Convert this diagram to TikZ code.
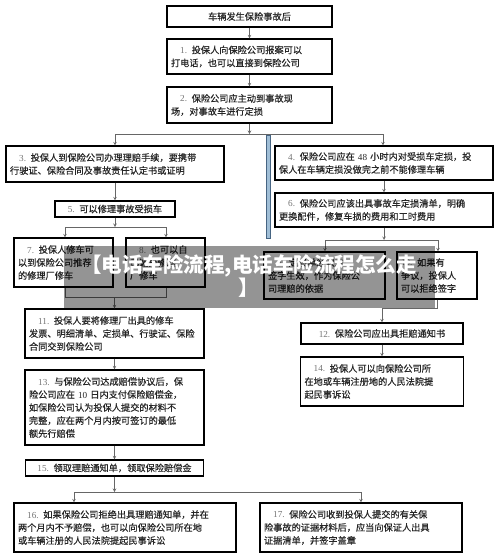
\documentclass[tikz,border=0pt]{standalone}
\usepackage{fontspec}
\setmainfont{Noto Sans CJK SC}
\newfontfamily\boxfont{Noto Sans CJK SC}[FakeBold=0.5]
\newfontfamily\numfont{Liberation Serif}
\definecolor{barfill}{RGB}{160,190,214}
\definecolor{barline}{RGB}{70,100,130}
\newcommand{\stepnum}[1]{{\numfont\color{black!55}#1.}\hspace{0.5em}}

\begin{document}
\begin{tikzpicture}[x=1pt, y=-1pt, >=stealth,
    stepbox/.style={draw, line width=1.1pt, rectangle, inner xsep=4pt, inner ysep=2pt,
        align=left, text=black!85, font=\boxfont\fontsize{9.2pt}{13pt}\selectfont},
    link/.style={draw=black!60, line width=0.6pt}]
        \useasboundingbox (0,0) rectangle (500,555);

        % main column
        \node[stepbox, align=center, minimum width=165pt, minimum height=21pt] (acc) at (249.5,16.5) {车辆发生保险事故后};
        \node[stepbox, text width=157pt, minimum height=35pt] (s1) at (249.5,56.5) {\hspace*{1em}\stepnum{1}投保人向保险公司报案可以\\打电话，也可以直接到保险公司};
        \node[stepbox, text width=157pt, minimum height=36pt] (s2) at (249.5,105) {\hspace*{1em}\stepnum{2}保险公司应主动到事故现\\场，对事故车进行定损};

        % left branch
        \node[stepbox, text width=210pt, minimum height=36pt] (s3) at (115,164) {\hspace*{1em}\stepnum{3}投保人到保险公司办理理赔手续，要携带\\行驶证、保险合同及事故责任认定书或证明};
        \node[stepbox, align=center, minimum width=120pt, minimum height=16pt] (s5) at (115,209) {\stepnum{5}可以修理事故受损车};
        \node[stepbox, text width=91pt, minimum height=49pt] (s7) at (63.5,262.5) {\hspace*{1em}\stepnum{7}投保人修车可\\以到保险公司推荐\\的修理厂修车};
        \node[stepbox, text width=71pt, minimum height=49pt] (s8) at (165.5,262.5) {\hspace*{1em}\stepnum{8}也可以自\\己选择修理\\厂修车};
        \node[stepbox, text width=171pt, minimum height=49pt] (s11) at (114.5,333.5) {\hspace*{1em}\stepnum{11}投保人要将修理厂出具的修车\\发票、明细清单、定损单、行驶证、保险\\合同交到保险公司};
        \node[stepbox, text width=171pt, minimum height=75pt] (s13) at (114.5,407.5) {\hspace*{1em}\stepnum{13}与保险公司达成赔偿协议后，保\\险公司应在 {\numfont 10} 日内支付保险赔偿金，\\如保险公司认为投保人提交的材料不\\完整，应在两个月内按可签订的最低\\额先行赔偿};
        \node[stepbox, align=center, minimum width=178pt, minimum height=16pt] (s15) at (114.5,468) {\stepnum{15}领取理赔通知单，领取保险赔偿金};

        % right branch
        \node[stepbox, text width=210pt, minimum height=34pt] (s4) at (384,163) {\hspace*{1em}\stepnum{4}保险公司应在 {\numfont 48} 小时内对受损车定损，投\\保人在车辆定损没做完之前不能修理车辆};
        \node[stepbox, text width=210pt, minimum height=34pt] (s6) at (384,210) {\hspace*{1em}\stepnum{6}保险公司应该出具事故车定损清单，明确\\更换配件，修复车损的费用和工时费用};
        \node[stepbox, text width=113pt, minimum height=47pt] (s9) at (324.5,275.5) {\hspace*{1em}\stepnum{9}定损单经双方\\签字生效，作为保险公\\司理赔的依据};
        \node[stepbox, text width=72pt, minimum height=47pt] (s10) at (437,275.5) {\stepnum{10}如果有\\争议，投保人\\可以拒绝签字};
        \node[stepbox, align=center, minimum width=162pt, minimum height=21pt] (s12) at (382,333.5) {\stepnum{12}保险公司应出具拒赔通知书};
        \node[stepbox, text width=155pt, minimum height=49pt] (s14) at (382,381.5) {\hspace*{1em}\stepnum{14}投保人可以向保险公司所\\在地或车辆注册地的人民法院提\\起民事诉讼};

        % bottom pair
        \node[stepbox, text width=214pt, minimum height=49pt] (s16) at (125,527.5) {\hspace*{1em}\stepnum{16}如果保险公司拒绝出具理赔通知单，并在\\两个月内不予赔偿，也可以向保险公司所在地\\或车辆注册的人民法院提起民事诉讼};
        \node[stepbox, text width=194pt, minimum height=49pt] (s17) at (361,527.5) {\hspace*{1em}\stepnum{17}保险公司收到投保人提交的有关保\\险事故的证据材料后，应当向保证人出具\\证据清单，并签字盖章};

        % split points
        \coordinate (j2a) at (115,134);
        \coordinate (j2b) at (383,134);
        \coordinate (j5a) at (65,227);
        \coordinate (j5b) at (166,227);
        \coordinate (j6a) at (325,240);
        \coordinate (j6b) at (438,240);
        \coordinate (j7) at (65,297);
        \coordinate (j8) at (166,297);
        \coordinate (j10) at (382,308);
        \coordinate (j15a) at (74,492);
        \coordinate (j15b) at (361,492);

        % top arrows
        \draw[link, ->] (acc) -- (s1);
        \draw[link, ->] (s1) -- (s2);
        \draw[link, ->] (s2) -- (s2 |- j2a);
        \draw[link] (j2a) -- (j2b);
        \draw[link, ->] (j2a) -- (j2a |- s3.north);
        \draw[link, ->] (j2b) -- (j2b |- s4.north);

        % left arrows
        \draw[link, ->] (s3) -- (s5);
        \draw[link, ->] (s5) -- (s5 |- j5a);
        \draw[link] (j5a) -- (j5b);
        \draw[link, ->] (j5a) -- (j5a |- s7.north);
        \draw[link, ->] (j5b) -- (j5b |- s8.north);
        \draw[link] (j5a |- s7.south) -- (j7) -- (j8) -- (j5b |- s8.south);
        \draw[link, ->] (s11 |- j7) -- (s11);
        \draw[link, ->] (s11) -- (s13);
        \draw[link, ->] (s13) -- (s15);

        % right arrows
        \draw[link, ->] (s4) -- (s6);
        \draw[link, ->] (s6) -- (s6 |- j6a);
        \draw[link] (j6a) -- (j6b);
        \draw[link, ->] (j6a) -- (j6a |- s9.north);
        \draw[link, ->] (j6b) -- (j6b |- s10.north);
        \draw[link, ->] (s10.south) |- (j10) -- (s12);
        \draw[link, ->] (s12) -- (s14);

        % bottom arrows
        \draw[link, ->] (s15) -- (s15 |- j15a);
        \draw[link] (j15a) -- (j15b);
        \draw[link, ->] (j15a) -- (j15a |- s16.north);
        \draw[link, ->] (j15b) -- (j15b |- s17.north);

        % blue bar
        \draw[draw=barline, fill=barfill, line width=0.8pt] (266,135) rectangle (270,238);

        % banner
        \fill[black, opacity=0.42] (64,246) rectangle (435,308);
        \node[text=white, align=center, font=\bfseries\fontsize{20.5pt}{23pt}\selectfont] (banner) at (249,276.5) {【电话车险流程,电话车险流程怎么走\\】};
    \end{tikzpicture}
\end{document}
